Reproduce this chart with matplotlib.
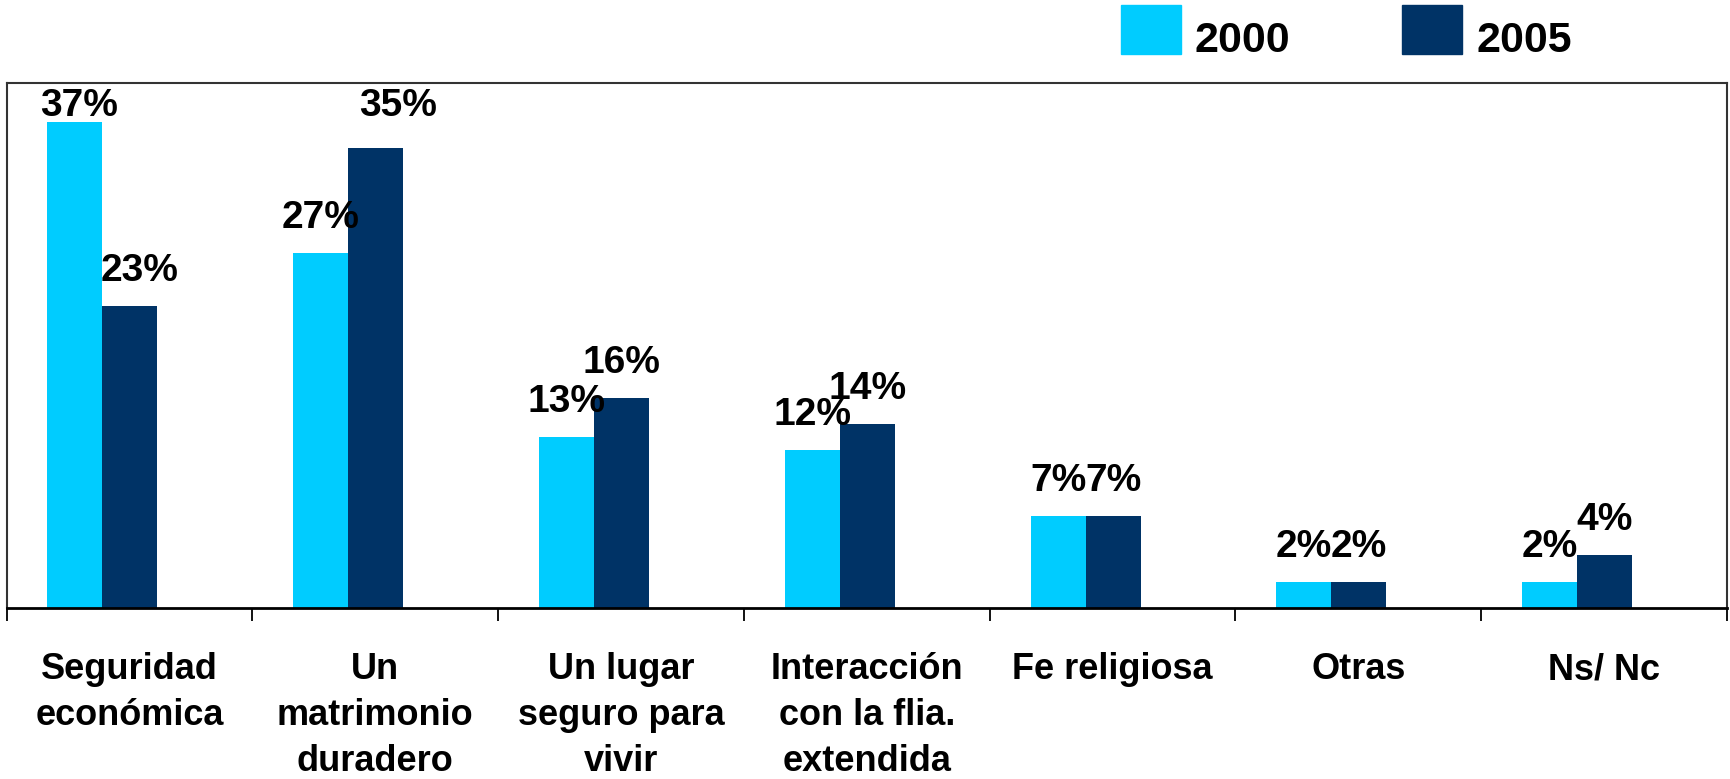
import numpy as np
import matplotlib
matplotlib.use("Agg")
import matplotlib.pyplot as plt
from matplotlib.patches import Rectangle

plt.rcParams['font.family'] = ['Liberation Sans', 'DejaVu Sans']
plt.rcParams['font.weight'] = 'bold'

categorias = ["Seguridad\neconómica", "Un\nmatrimonio\nduradero", "Un lugar\nseguro para\nvivir",
              "Interacción\ncon la flia.\nextendida", "Fe religiosa", "Otras", "Ns/ Nc"]
anios = ["2000", "2005"]
v2000 = [37, 27, 13, 12, 7, 2, 2]
v2005 = [23, 35, 16, 14, 7, 2, 4]

colores = ["#00CCFF", "#003366"]

W, H = 1730, 779
fig = plt.figure(figsize=(W / 100, H / 100), dpi=100)
ax = fig.add_axes([0.0038, 0.2195, 0.9945, 0.6743])

x = np.arange(len(categorias))
w = 0.224
b1 = ax.bar(x - 0.222, v2000, w, color=colores[0], label=anios[0])
b2 = ax.bar(x + 0.002, v2005, w, color=colores[1], label=anios[1])

# label placement tweaks (pixel offsets) where the original deviates
ajustes = {(0, 0): (4, 6), (0, 1): (10, 25), (1, 1): (22, 32)}
for s, (barras, vals) in enumerate([(b1, v2000), (b2, v2005)]):
    for i, (r, v) in enumerate(zip(barras, vals)):
        dx, dy = ajustes.get((i, s), (0, 25))
        ax.annotate(f"{v}%", xy=(r.get_x() + r.get_width() / 2, v),
                    xytext=(dx, dy), textcoords='offset pixels',
                    ha='center', va='baseline', fontsize=28, fontweight='bold')

ax.set_xlim(-0.5, len(categorias) - 0.5)
ax.set_ylim(0, 40)
ax.set_yticks([])
ax.set_xticks(x)
ax.set_xticklabels(categorias, fontsize=26, fontweight='bold', linespacing=1.4)
ax.tick_params(axis='x', length=0, pad=32)
ax.set_xticks(np.arange(len(categorias) + 1) - 0.5, minor=True)
ax.tick_params(axis='x', which='minor', direction='out', length=9.5, width=1.3, color='black')

for side in ['top', 'left', 'right']:
    ax.spines[side].set_color('#333333')
    ax.spines[side].set_linewidth(1.5)
ax.spines['bottom'].set_color('black')
ax.spines['bottom'].set_linewidth(2)

# legend drawn by hand so the swatch/text alignment matches the original
leg_x = [1121, 1402]
for px, col, txt in zip(leg_x, colores, anios):
    fig.patches.append(Rectangle((px / W, 1 - 53.5 / H), 60 / W, 48.5 / H,
                                 transform=fig.transFigure, color=col))
    fig.text((px + 74) / W, 1 - 52 / H, txt, fontsize=31, fontweight='bold',
             ha='left', va='baseline')

fig.savefig("out.png", dpi=100)
